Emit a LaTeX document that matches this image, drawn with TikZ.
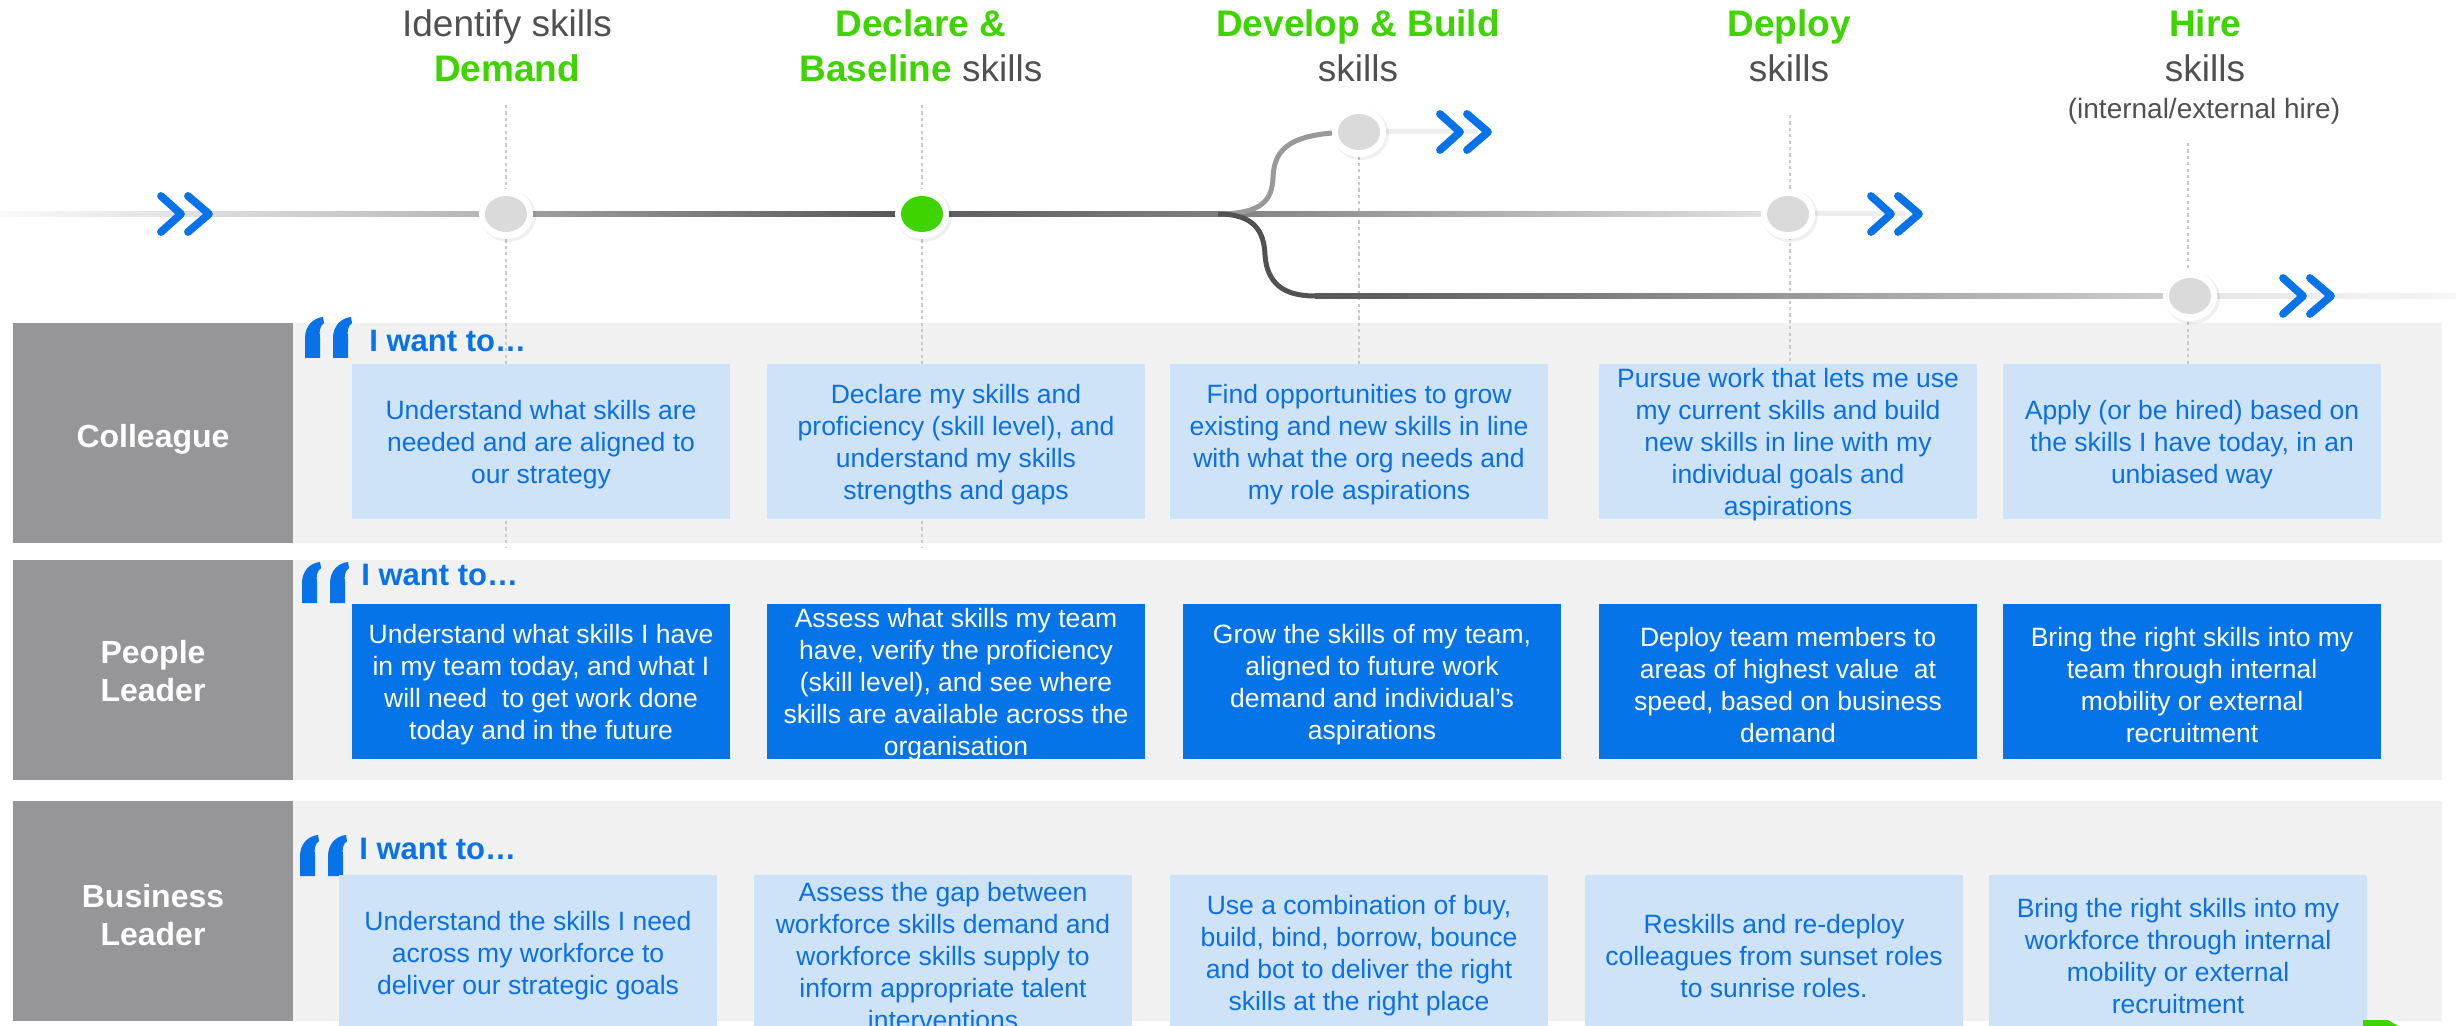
\documentclass[tikz,border=0pt]{standalone}
\usepackage{fontspec}
\setmainfont{Liberation Sans}
\usetikzlibrary{shapes.geometric,calc}

\definecolor{cHead}{RGB}{80,80,80}
\definecolor{cGreen}{RGB}{61,212,0}
\definecolor{cBlue}{RGB}{8,114,232}
\definecolor{cText}{RGB}{10,112,230}
\definecolor{cPale}{RGB}{206,226,248}
\definecolor{cDeep}{RGB}{5,116,232}
\definecolor{cBand}{RGB}{241,241,241}
\definecolor{cRole}{RGB}{150,150,153}
\definecolor{cDash}{RGB}{200,200,200}
\definecolor{cStop}{RGB}{218,218,218}

\tikzset{
  headtxt/.style={anchor=base, inner sep=0, text=cHead,
    font=\fontsize{18.5pt}{22pt}\selectfont},
  headkey/.style={headtxt, text=cGreen,
    font=\fontsize{18.5pt}{22pt}\selectfont\bfseries},
  subtxt/.style={anchor=base, inner sep=0, text=cHead,
    font=\fontsize{14pt}{17pt}\selectfont},
  rolebox/.style={rectangle, fill=cRole, minimum width=140pt, minimum height=110pt,
    inner sep=0},
  roletxt/.style={inner sep=0, text=white, align=center,
    font=\fontsize{16pt}{19.2pt}\selectfont\bfseries},
  bandrow/.style={rectangle, fill=cBand, minimum width=1074.5pt, minimum height=110pt,
    inner sep=0, anchor=west},
  palebox/.style={rectangle, fill=cPale, minimum width=189pt, minimum height=77.5pt, inner sep=0},
  deepbox/.style={rectangle, fill=cDeep, minimum width=189pt, minimum height=77.5pt, inner sep=0},
  paletxt/.style={inner sep=0, align=center, text=cText, yshift=-1.8pt,
    font=\fontsize{13.25pt}{16pt}\selectfont},
  deeptxt/.style={paletxt, text=white},
  wantto/.style={anchor=base west, inner sep=0, text=cBlue,
    font=\fontsize{15.5pt}{18pt}\selectfont\bfseries},
  guide/.style={draw=cDash, line width=1pt, dash pattern=on 1.6pt off 1.6pt},
  halo/.style={ellipse, fill=white, minimum width=27pt, minimum height=25pt, inner sep=0},
  haloshade/.style={ellipse, fill=black, opacity=0.06, minimum width=28pt, minimum height=26pt, inner sep=0},
  stopdot/.style={ellipse, fill=cStop, minimum width=21pt, minimum height=18pt, inner sep=0},
  track/.style={line width=2.5pt},
  chevrons/.pic={
    \draw[cBlue, line width=3.9pt, line cap=round, line join=round]
      (-25,-18) -- (-5,0) -- (-25,18)
      (2,-18) -- (23,0) -- (2,18);
  },
  quotemark/.pic={
    \foreach \dx in {0,28}{
      \fill[cBlue] (\dx,41) -- (\dx,21)
        .. controls (\dx,9) and (\dx+8,1) .. (\dx+18,0)
        -- (\dx+19,6)
        .. controls (\dx+15,9) and (\dx+14,14) .. (\dx+15,20)
        -- (\dx+15,41) -- cycle;
    }
  }
}

\begin{document}
\begin{tikzpicture}[x=0.5pt,y=-0.5pt]
\useasboundingbox (0,0) rectangle (2456,1026);
\clip (0,0) rectangle (2456,1026);

% ---- role rows ----
\node[rolebox] (rColl) at (153,433) {};
\node[roletxt] (rCollT) at (153,439) {Colleague};
\node[bandrow] (bColl) at (293,433) {};
\node[rolebox] (rPeop) at (153,670) {};
\node[roletxt] (rPeopT) at (153,671) {People\\Leader};
\node[bandrow] (bPeop) at (293,670) {};
\node[rolebox] (rBusi) at (153,911) {};
\node[roletxt] (rBusiT) at (153,915) {Business\\Leader};
\node[bandrow] (bBusi) at (293,911) {};

% ---- stage guides ----
\coordinate (g1t) at (506,105);  \coordinate (g1b) at (506,548);
\coordinate (g2t) at (922,105);  \coordinate (g2b) at (922,548);
\coordinate (g3t) at (1359,150); \coordinate (g3b) at (1359,364);
\coordinate (g4t) at (1790,115); \coordinate (g4b) at (1790,364);
\coordinate (g5t) at (2188,143); \coordinate (g5b) at (2188,364);
\foreach \g in {1,...,5}{\draw[guide] (g\g t) -- (g\g b);}

% ---- stage markers (positions) ----
\coordinate (p1) at (506,214);
\coordinate (p2) at (922,214);
\coordinate (p3) at (1359,132);
\coordinate (p4) at (1788,214);
\coordinate (p5) at (2190,296);
\coordinate (st) at (0,214);
\coordinate (fork) at (1218,214);
\coordinate (low) at (1315,296);
\coordinate (e3) at (1478,132);
\coordinate (e4) at (1905,214);
\coordinate (e5) at (2456,296);

% ---- timeline tracks ----
\shade[left color=black!2, right color=black!30] ($(st)+(0,-2.5)$) rectangle ($(p1)+(0,2.5)$);
\shade[left color=black!36, right color=black!68] ($(p1)+(0,-2.5)$) rectangle ($(p2)+(0,2.5)$);
\shade[left color=black!64, right color=black!50] ($(p2)+(0,-2.5)$) rectangle ($(fork)+(0,2.5)$);
\shade[left color=black!50, right color=black!10] ($(fork)+(0,-2.5)$) rectangle ($(p4)+(0,2.5)$);
\draw[track, black!40] (fork) .. controls (1262,214) and (1272,200) .. (1273,178)
  .. controls (1274,148) and (1290,132) .. (p3);
\draw[track, black!68] (fork) .. controls (1255,214) and (1264,232) .. (1265,255)
  .. controls (1267,283) and (1283,296) .. (low);
\shade[left color=black!66, right color=black!18] ($(low)+(0,-2.5)$) rectangle ($(p5)+(0,2.5)$);
\fill[black!7] ($(p3)+(0,-2.5)$) rectangle ($(e3)+(0,2.5)$);
\fill[black!7] ($(p4)+(0,-2.5)$) rectangle ($(e4)+(0,2.5)$);
\shade[left color=black!10, right color=black!4] ($(p5)+(0,-2.5)$) rectangle ($(e5)+(0,2.5)$);

% ---- stage markers ----
\foreach \p in {1,...,5}{
  \node[haloshade] (sh\p) at ($(p\p)+(2,2)$) {};
  \node[halo] (h\p) at (p\p) {};
}
\node[stopdot] (s1) at (p1) {};
\node[stopdot, fill=cGreen] (s2) at (p2) {};
\node[stopdot] (s3) at (p3) {};
\node[stopdot] (s4) at (p4) {};
\node[stopdot] (s5) at (p5) {};

% ---- chevrons ----
\pic at (186,214) {chevrons};
\pic at (1465,132) {chevrons};
\pic at (1896,214) {chevrons};
\pic at (2308,296) {chevrons};

% ---- stage headings ----
\node[headtxt] (t1a) at (507,37) {Identify skills};
\node[headkey] (t1b) at (507,82) {Demand};
\node[headkey] (t2a) at (921,37) {Declare \&};
\node[headtxt] (t2b) at (921,82) {{\bfseries\color{cGreen}Baseline} skills};
\node[headkey] (t3a) at (1358,37) {Develop \& Build};
\node[headtxt] (t3b) at (1358,82) {skills};
\node[headkey] (t4a) at (1789,37) {Deploy};
\node[headtxt] (t4b) at (1789,82) {skills};
\node[headkey] (t5a) at (2205,37) {Hire};
\node[headtxt] (t5b) at (2205,82) {skills};
\node[subtxt] (t5c) at (2204,119) {(internal/external hire)};

% ---- "I want to" lines ----
\pic at (305,317) {quotemark};
\node[wantto] (wColl) at (369,352) {I want to…};
\pic at (302,562) {quotemark};
\node[wantto] (wPeop) at (361,585) {I want to…};
\pic at (300,835) {quotemark};
\node[wantto] (wBusi) at (359,859) {I want to…};

% ---- Colleague ----
\node[palebox] (c1) at (541,441.5) {};
\node[paletxt] (c1t) at (c1) {Understand what skills are\\needed and are aligned to\\our strategy};
\node[palebox] (c2) at (956,441.5) {};
\node[paletxt] (c2t) at (c2) {Declare my skills and\\proficiency (skill level), and\\understand my skills\\strengths and gaps};
\node[palebox] (c3) at (1359,441.5) {};
\node[paletxt] (c3t) at (c3) {Find opportunities to grow\\existing and new skills in line\\with what the org needs and\\my role aspirations};
\node[palebox] (c4) at (1788,441.5) {};
\node[paletxt] (c4t) at (c4) {Pursue work that lets me use\\my current skills and build\\new skills in line with my\\individual goals and\\aspirations};
\node[palebox] (c5) at (2192,441.5) {};
\node[paletxt] (c5t) at (c5) {Apply (or be hired) based on\\the skills I have today, in an\\unbiased way};

% ---- People Leader ----
\node[deepbox] (l1) at (541,681.5) {};
\node[deeptxt] (l1t) at (l1) {Understand what skills I have\\in my team today, and what I\\will need~ to get work done\\today and in the future};
\node[deepbox] (l2) at (956,681.5) {};
\node[deeptxt] (l2t) at (l2) {Assess what skills my team\\have, verify the proficiency\\(skill level), and see where\\skills are available across the\\organisation};
\node[deepbox] (l3) at (1372,681.5) {};
\node[deeptxt] (l3t) at (l3) {Grow the skills of my team,\\aligned to future work\\demand and individual’s\\aspirations};
\node[deepbox] (l4) at (1788,681.5) {};
\node[deeptxt] (l4t) at (l4) {Deploy team members to\\areas of highest value~ at\\speed, based on business\\demand};
\node[deepbox] (l5) at (2192,681.5) {};
\node[deeptxt] (l5t) at (l5) {Bring the right skills into my\\team through internal\\mobility or external\\recruitment};

% ---- Business Leader ----
\node[palebox] (b1) at (528,952.5) {};
\node[paletxt] (b1t) at (b1) {Understand the skills I need\\across my workforce to\\deliver our strategic goals};
\node[palebox] (b2) at (943,952.5) {};
\node[paletxt] (b2t) at (b2) {Assess the gap between\\workforce skills demand and\\workforce skills supply to\\inform appropriate talent\\interventions};
\node[palebox] (b3) at (1359,952.5) {};
\node[paletxt] (b3t) at (b3) {Use a combination of buy,\\build, bind, borrow, bounce\\and bot to deliver the right\\skills at the right place};
\node[palebox] (b4) at (1774,952.5) {};
\node[paletxt] (b4t) at (b4) {Reskills and re-deploy\\colleagues from sunset roles\\to sunrise roles.};
\node[palebox] (b5) at (2178,952.5) {};
\node[paletxt] (b5t) at (b5) {Bring the right skills into my\\workforce through internal\\mobility or external\\recruitment};

% ---- green tab at lower edge ----
\fill[cGreen] (2363,1020) -- (2388,1020) -- (2398,1026) -- (2363,1026) -- cycle;
\end{tikzpicture}
\end{document}
